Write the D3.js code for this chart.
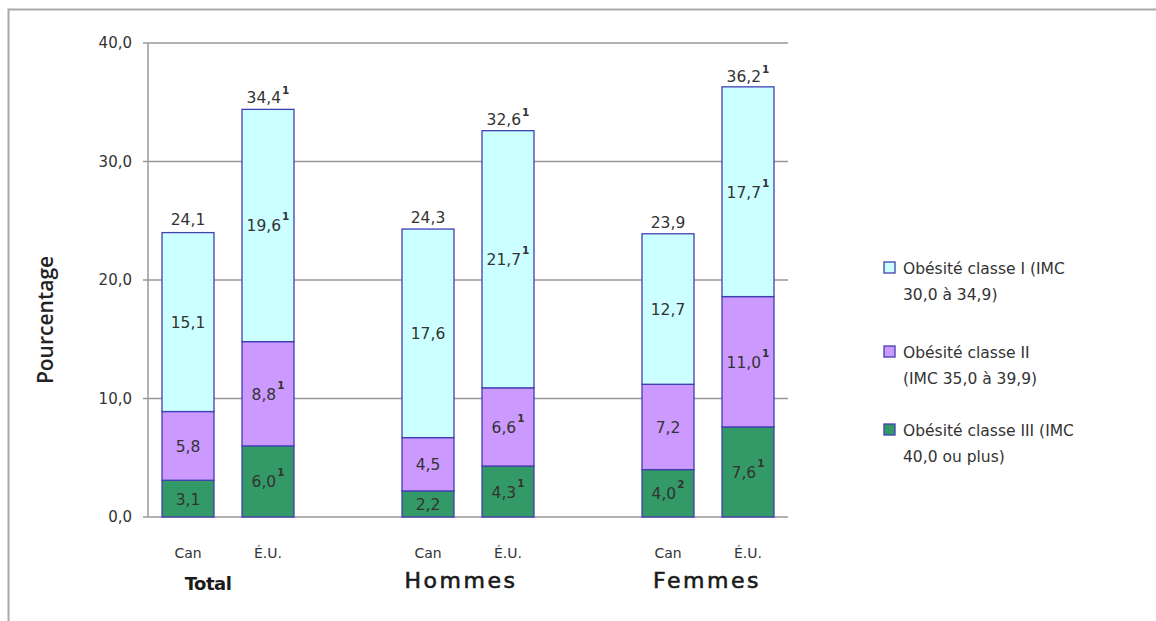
<!DOCTYPE html>
<html>
<head>
<meta charset="utf-8">
<script src="https://d3js.org/d3.v7.min.js"></script>
<style>
  body { margin: 0; background: #fff; }
  text { font-family: "DejaVu Sans", Verdana, sans-serif; fill: #333; }
</style>
</head>
<body>
<script>
// categories (empty slots separate groups)
var slots = ["Total-Can", "Total-EU", "gap1", "Hommes-Can", "Hommes-EU", "gap2", "Femmes-Can", "Femmes-EU"];
var barSlots = ["Total-Can", "Total-EU", "Hommes-Can", "Hommes-EU", "Femmes-Can", "Femmes-EU"];
var barLabels = ["Can", "É.U.", "Can", "É.U.", "Can", "É.U."];
var groups = ["Total", "Hommes", "Femmes"];
var classIII = [3.1, 6.0, 2.2, 4.3, 4.0, 7.6];
var classII = [5.8, 8.8, 4.5, 6.6, 7.2, 11.0];
var classI = [15.1, 19.6, 17.6, 21.7, 12.7, 17.7];
var totals = [24.1, 34.4, 24.3, 32.6, 23.9, 36.2];
// superscript notes
var noteIII = ["", "1", "", "1", "2", "1"];
var noteII = ["", "1", "", "1", "", "1"];
var noteI = ["", "1", "", "1", "", "1"];
var noteTotal = ["", "1", "", "1", "", "1"];
var yTicks = [0, 10, 20, 30, 40];
var seriesNames = [["Obésité classe I (IMC", "30,0 à 34,9)"], ["Obésité classe II", "(IMC 35,0 à 39,9)"], ["Obésité classe III (IMC", "40,0 ou plus)"]];
var colors = ["#ccffff", "#cc99ff", "#339966"];

var W = 1156, H = 621;
var svg = d3.select("body").append("svg").attr("width", W).attr("height", H);

// outer frame
svg.append("rect").attr("x", 8.5).attr("y", 9.5).attr("width", W + 20).attr("height", H + 20)
  .attr("fill", "none").attr("stroke", "#aaa").attr("stroke-width", 2);

var x = d3.scaleBand().domain(slots).range([148, 788]).paddingInner(0.35).paddingOuter(0.175);
var y = d3.scaleLinear().domain([0, 40]).range([517, 43]);

var fmt = function(v) { return d3.format(".1f")(v).replace(".", ","); };

// grid
svg.append("g").selectAll("line").data(yTicks).enter().append("line")
  .attr("x1", 143).attr("x2", 788)
  .attr("y1", function(d) { return y(d); }).attr("y2", function(d) { return y(d); })
  .attr("stroke", "#999").attr("stroke-width", 1.5);
svg.append("line").attr("x1", 148).attr("x2", 148).attr("y1", y(40)).attr("y2", y(0))
  .attr("stroke", "#999").attr("stroke-width", 1.5);
svg.append("g").selectAll("text").data(yTicks).enter().append("text")
  .attr("x", 132).attr("y", function(d) { return y(d) + 5; })
  .attr("text-anchor", "end").style("font-size", "15px")
  .text(function(d) { return fmt(d); });

svg.append("text").attr("transform", "translate(53,320) rotate(-90)")
  .attr("text-anchor", "middle").style("font-size", "21px").style("fill", "#222")
  .style("font-family", "'Open Sans', sans-serif").style("font-weight", "600")
  .text("Pourcentage");

// stacks
var rows = barSlots.map(function(s, i) {
  return { slot: s, vals: [classIII[i], classII[i], classI[i]], notes: [noteIII[i], noteII[i], noteI[i]], i: i };
});
var stackColors = [colors[2], colors[1], colors[0]];
rows.forEach(function(r) {
  var base = 0;
  r.vals.forEach(function(v, k) {
    var x0 = x(r.slot), bw = x.bandwidth();
    svg.append("rect").attr("x", x0).attr("y", y(base + v))
      .attr("width", bw).attr("height", y(base) - y(base + v))
      .attr("fill", stackColors[k]).attr("stroke", "#4040b0").attr("stroke-width", 1.3);
    var t = svg.append("text").attr("x", x0 + bw / 2).attr("y", y(base + v / 2) + 6)
      .attr("text-anchor", "middle").style("font-size", "15.5px").text(fmt(v));
    if (r.notes[k]) {
      t.append("tspan").attr("dy", -11).attr("dx", 1).style("font-size", "10.5px").style("font-weight", "bold").text(r.notes[k]);
    }
    base += v;
  });
  var tt = svg.append("text").attr("x", x(r.slot) + x.bandwidth() / 2).attr("y", y(totals[r.i]) - 6)
    .attr("text-anchor", "middle").style("font-size", "15.5px").text(fmt(totals[r.i]));
  if (noteTotal[r.i]) {
    tt.append("tspan").attr("dy", -9).attr("dx", 1).style("font-size", "10.5px").style("font-weight", "bold").text(noteTotal[r.i]);
  }
});

// x labels
svg.append("g").selectAll("text").data(barSlots).enter().append("text")
  .attr("x", function(d) { return x(d) + x.bandwidth() / 2; }).attr("y", 558)
  .attr("text-anchor", "middle").style("font-size", "14px")
  .text(function(d, i) { return barLabels[i]; });

var groupX = [208, 461, 707];
svg.append("g").selectAll("text").data(groups).enter().append("text")
  .attr("x", function(d, i) { return groupX[i]; }).attr("y", function(d, i) { return i == 0 ? 590 : 588; })
  .attr("text-anchor", "middle")
  .style("font-size", function(d, i) { return i == 0 ? "18px" : "22px"; })
  .style("font-weight", function(d, i) { return i == 0 ? "bold" : "normal"; })
  .style("letter-spacing", function(d, i) { return i == 0 ? "-0.5px" : "2.5px"; })
  .style("fill", "#1a1a1a").style("stroke", function(d, i) { return i == 0 ? "none" : "#1a1a1a"; })
  .style("stroke-width", 0.6)
  .text(function(d) { return d; });

// legend
var leg = svg.append("g");
var legY = [268, 352, 430];
seriesNames.forEach(function(lines, k) {
  leg.append("rect").attr("x", 884).attr("y", legY[k] - 6).attr("width", 11).attr("height", 11)
    .attr("fill", colors[k]).attr("stroke", "#4040b0").attr("stroke-width", 1.3);
  lines.forEach(function(s, j) {
    leg.append("text").attr("x", 903).attr("y", legY[k] + 6 + j * 26)
      .style("font-size", "15.5px").text(s);
  });
});
</script>
</body>
</html>
